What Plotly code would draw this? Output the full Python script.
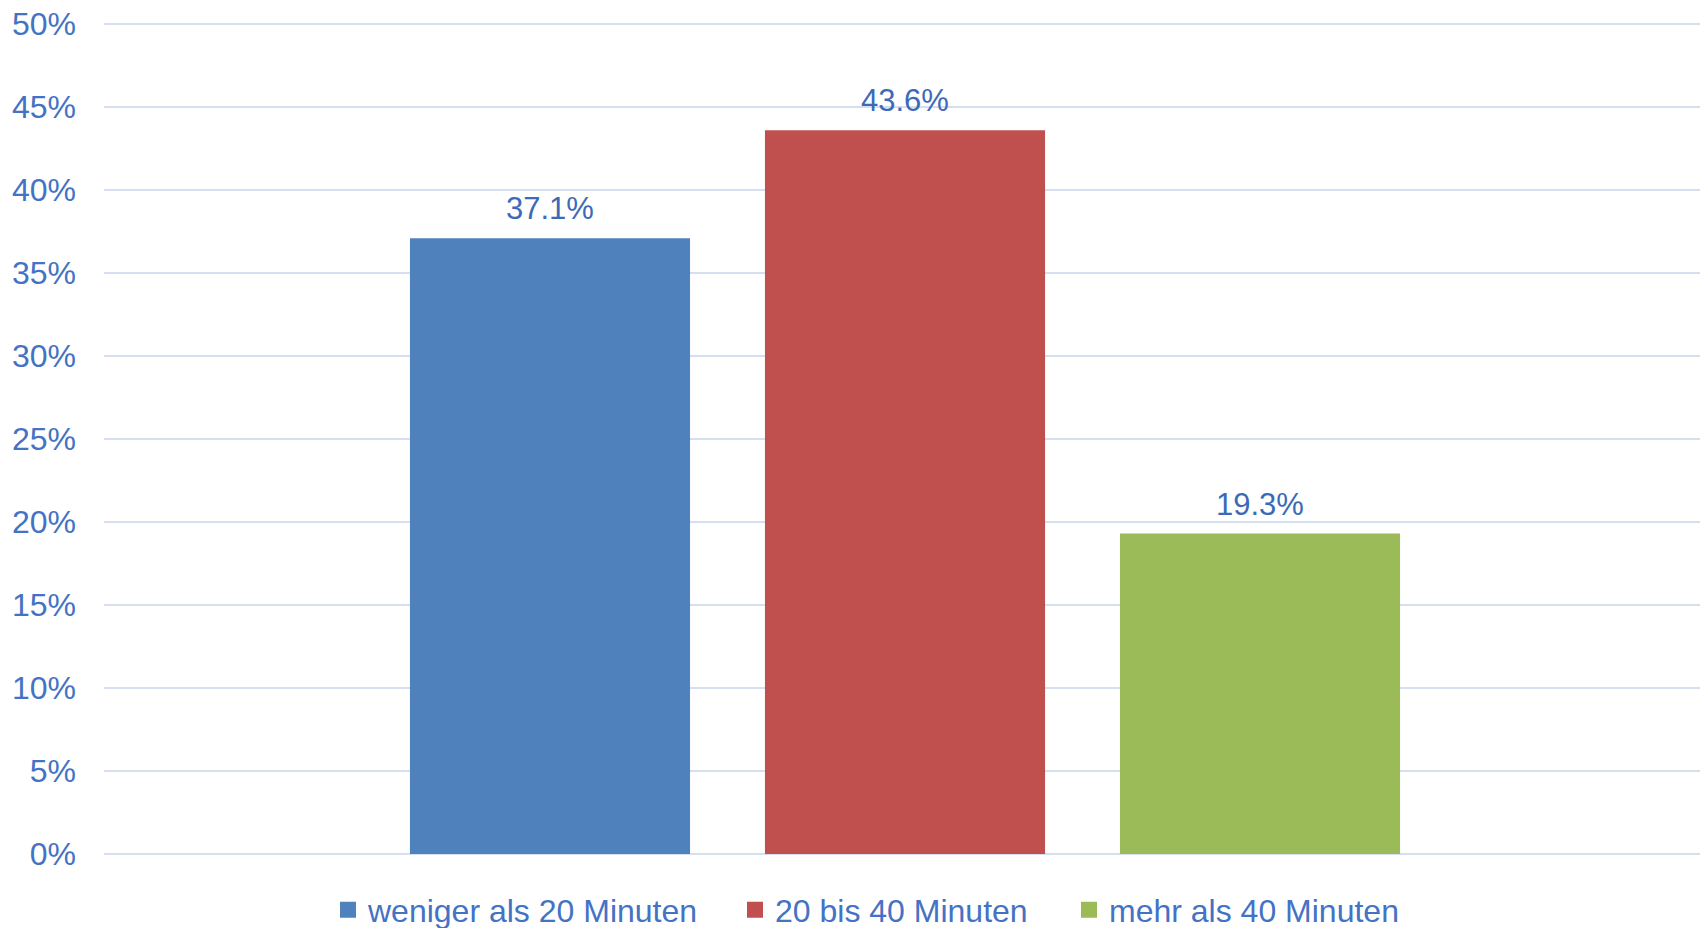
import plotly.graph_objects as go

categories = ["weniger als 20 Minuten", "20 bis 40 Minuten", "mehr als 40 Minuten"]
values = [0.371, 0.436, 0.193]
labels = ["37.1%", "43.6%", "19.3%"]
colors = ["#4F81BD", "#C0504D", "#9BBB59"]
y_ticks = [0, 0.05, 0.10, 0.15, 0.20, 0.25, 0.30, 0.35, 0.40, 0.45, 0.50]

FONT = "Liberation Sans, Arial, sans-serif"
AXIS_BLUE = "#4472C4"
LABEL_BLUE = "#3C6AB8"

# page has an 8px body margin, so figure is 1700x920 to fill the 1708x928 view
W, H = 1700, 920
legend_names = ["legend", "legend2", "legend3"]
legend_x = [320 / W, 727 / W, 1061 / W]

fig = go.Figure()
for cat, v, c in zip(categories, values, colors):
    fig.add_trace(go.Bar(
        x=[cat], y=[v], name=cat,
        marker=dict(color=c, line=dict(width=0)),
        hoverinfo="skip", showlegend=False,
    ))
for cat, c, lg in zip(categories, colors, legend_names):
    fig.add_trace(go.Scatter(
        x=[None], y=[None], mode="markers", name=cat,
        marker=dict(symbol="square", size=17, color=c),
        showlegend=True, legend=lg, hoverinfo="skip",
    ))

annotations = []
for cat, v, lab in zip(categories, values, labels):
    annotations.append(dict(
        x=cat, y=v, text=lab, showarrow=False,
        xref="x", yref="y", yanchor="bottom", yshift=10,
        font=dict(family=FONT, size=31, color=LABEL_BLUE),
    ))

legend_common = dict(
    orientation="h", xanchor="left",
    yref="container", xref="container", y=18 / H, yanchor="middle",
    font=dict(family=FONT, size=32, color=AXIS_BLUE),
    bgcolor="rgba(0,0,0,0)",
)

fig.update_layout(
    width=W, height=H,
    margin=dict(l=96, r=2, t=4, b=74, autoexpand=False),
    paper_bgcolor="white", plot_bgcolor="white",
    barmode="overlay",
    bargap=0.211,
    showlegend=True,
    legend=dict(x=legend_x[0], **legend_common),
    legend2=dict(x=legend_x[1], **legend_common),
    legend3=dict(x=legend_x[2], **legend_common),
    xaxis=dict(
        type="category", categoryorder="array", categoryarray=categories,
        range=[-1.2563, 3.2563],
        showticklabels=False, showgrid=False, zeroline=False,
        showline=False, ticks="", automargin=False,
    ),
    yaxis=dict(
        range=[0, 0.50723], tickvals=y_ticks, tickformat=".0%",
        showgrid=True, gridcolor="#D6DFEF", gridwidth=2,
        zeroline=True, zerolinecolor="#D6DFEF", zerolinewidth=2,
        showline=False, ticks="", automargin=False,
        tickfont=dict(family=FONT, size=32, color=AXIS_BLUE),
        ticklabelstandoff=27, ticklabeloverflow="allow",
    ),
    annotations=annotations,
)

fig.write_html("out.html")
